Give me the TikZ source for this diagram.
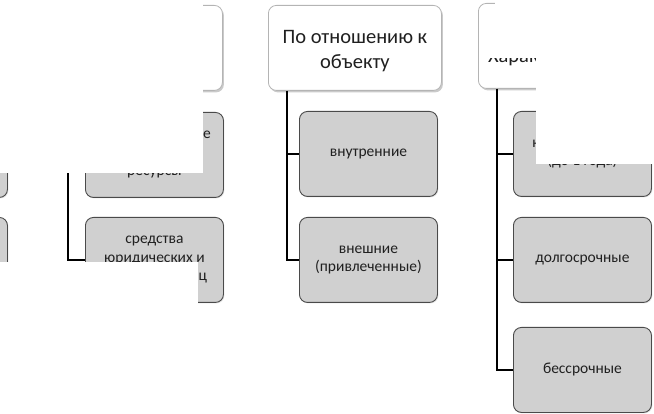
\documentclass[tikz,border=0pt]{standalone}
\usepackage{fontspec}
\setmainfont{Carlito}
\usetikzlibrary{shadows}
\definecolor{boxgray}{HTML}{D0D0D0}
\definecolor{boxline}{HTML}{4A4A4A}
\definecolor{headline}{HTML}{B4B4B4}
\definecolor{txt}{HTML}{202020}
\begin{document}
\begin{tikzpicture}[x=1pt,y=-1pt,
  head/.style={draw=headline, line width=0.8pt, fill=white, rounded corners=8pt,
    minimum width=173pt, minimum height=85pt, align=center, inner sep=0pt,
    font=\fontsize{20.5}{25}\selectfont, text=txt, anchor=north west,
    drop shadow={shadow xshift=1.5pt, shadow yshift=-2pt, opacity=0.35, fill=black!60}},
  leaf/.style={draw=boxline, line width=0.9pt, fill=boxgray, rounded corners=8pt,
    minimum width=138pt, minimum height=85pt, align=center, inner sep=0pt,
    font=\fontsize{15.5}{18.5}\selectfont, text=txt, anchor=north west,
    drop shadow={shadow xshift=1pt, shadow yshift=-1pt, opacity=0.2, fill=black!50}},
  link/.style={line width=2.6pt, black},
  cover/.style={fill=white, draw=none}]
\useasboundingbox (0,0) rectangle (654,414);
\clip (0,0) rectangle (654,414);
% headers
\node[head] (h1) at (49,5) {};
\node[head] (h2) at (268,5) {\rule{0pt}{20pt}По отношению к\\объекту};
\node[head] (h3) at (478,3) {};
\node[font=\fontsize{20.5}{25}\selectfont, text=txt, anchor=base west, inner sep=0pt] (h3t) at (488,63) {Характер владения};
% leaves
\node[leaf] (a0) at (-131,112) {};
\node[leaf] (b0) at (-131,217) {};
\node[leaf] (a1) at (85,112) {государственные\\[18.5pt]ресурсы};
\node[leaf] (b1) at (85,217) {средства\\юридических и\\физических лиц};
\node[leaf] (a2) at (299,111) {внутренние};
\node[leaf] (b2) at (299,217) {внешние\\(привлеченные)};
\node[leaf] (a3) at (513,111) {краткосрочные\\(до 1 года)};
\node[leaf] (b3) at (513,217) {долгосрочные};
\node[leaf] (c3) at (513,327) {бессрочные};
% connectors
\coordinate (v1) at ([xshift=19pt]h1.south west);
\coordinate (v2) at ([xshift=19pt]h2.south west);
\coordinate (v3) at ([xshift=19pt]h3.south west);
\draw[link] (v1) |- (a1.west);
\draw[link] (v1) |- (b1.west);
\draw[link] (v2) |- (a2.west);
\draw[link] (v2) |- (b2.west);
\draw[link] (v3) |- (a3.west);
\draw[link] (v3) |- (b3.west);
\draw[link] (v3) |- (c3.west);
% white patches covering parts of the picture
\fill[cover] (-2,-2) rectangle (203,173);
\fill[cover] (-2,262) rectangle (198,416);
\fill[cover] (495,-2) rectangle (656,58);
\fill[cover] (484,8) rectangle (495,58);
\fill[cover] (536,-2) rectangle (656,164);
\end{tikzpicture}
\end{document}
